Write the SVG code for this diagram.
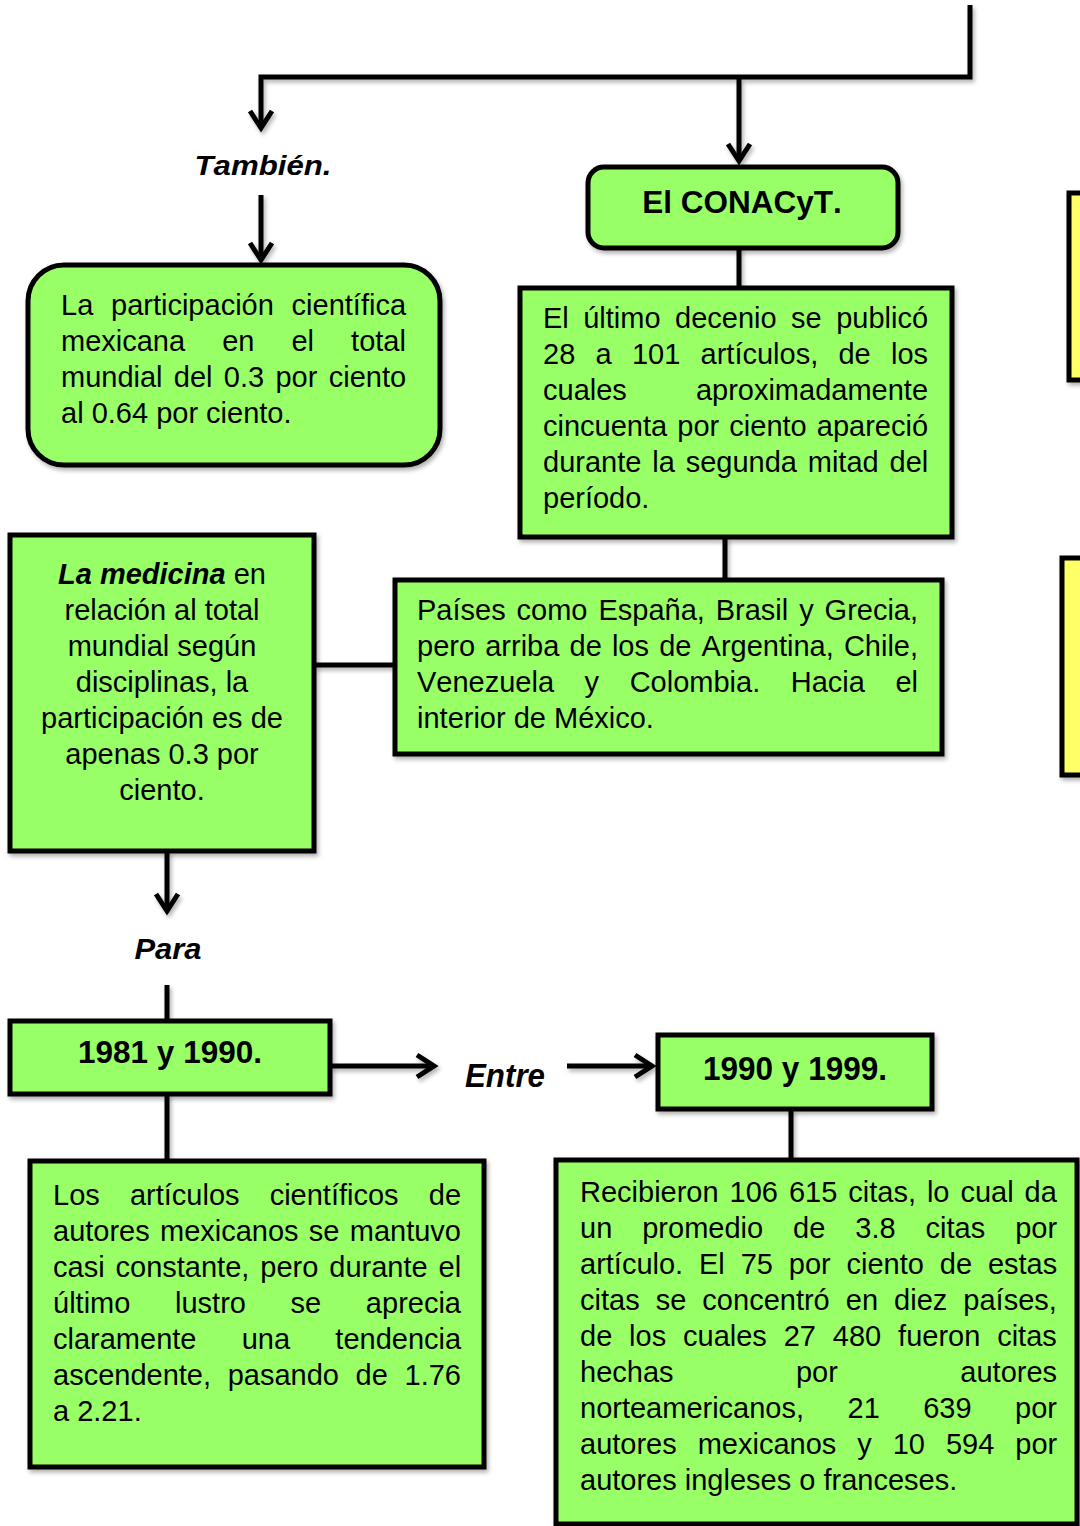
<svg xmlns="http://www.w3.org/2000/svg" width="1080" height="1526" viewBox="0 0 1080 1526">
<style>
.box{fill:#99FF66;stroke:#000;stroke-width:5}
.yel{fill:#FFFF66;stroke:#000;stroke-width:5}
.ln{fill:none;stroke:#000;stroke-width:5}
.t{font-family:"Liberation Sans",Arial,sans-serif;font-size:29px;fill:#000;font-kerning:none}
.b{font-weight:bold}
.bi{font-weight:bold;font-style:italic}
.e{text-anchor:end}
.m{text-anchor:middle}
</style>
<defs>
<filter id="sh" x="-10%" y="-10%" width="130%" height="130%">
<feDropShadow dx="2" dy="3" stdDeviation="2" flood-color="#000" flood-opacity="0.3"/>
</filter>
<marker id="ah" markerUnits="userSpaceOnUse" viewBox="-22 -15 30 30" markerWidth="30" markerHeight="30" refX="0" refY="0" orient="auto" overflow="visible">
<path d="M-17,-11 L0,0 L-17,11" fill="none" stroke="#000" stroke-width="5"/>
</marker>
</defs>
<rect width="1080" height="1526" fill="#fff"/>

<g id="connectors" filter="url(#sh)">
<path class="ln" d="M970,5 V77 H261 V128" marker-end="url(#ah)"/>
<path class="ln" d="M739,77 V161" marker-end="url(#ah)"/>
<path class="ln" d="M261,195 V260" marker-end="url(#ah)"/>
<path class="ln" d="M739,248 V288"/>
<path class="ln" d="M725,537 V580"/>
<path class="ln" d="M314,665 H395"/>
<path class="ln" d="M167,851 V911" marker-end="url(#ah)"/>
<path class="ln" d="M167,985 V1021"/>
<path class="ln" d="M330,1066 H434" marker-end="url(#ah)"/>
<path class="ln" d="M567,1066 H652" marker-end="url(#ah)"/>
<path class="ln" d="M167,1094 V1161"/>
<path class="ln" d="M791,1109 V1160"/>
</g>

<g id="label-tambien">
<text class="t bi m" x="263" y="175" style="font-size:28px" textLength="137" lengthAdjust="spacingAndGlyphs">También.</text>
</g>

<g id="node-participacion">
<rect class="box" x="28" y="265" width="412" height="200" rx="36" filter="url(#sh)"/>
<text class="t" x="61" y="315" word-spacing="9.7">La participación científica</text>
<text class="t" x="61" y="351" word-spacing="29">mexicana en el total</text>
<text class="t" x="61" y="387" word-spacing="3.25">mundial del 0.3 por ciento</text>
<text class="t" x="61" y="423">al 0.64 por ciento.</text>
</g>

<g id="node-conacyt">
<rect class="box" x="588" y="167" width="310" height="81" rx="16" filter="url(#sh)"/>
<text class="t b m" x="742" y="213" style="font-size:31.5px">El CONACyT.</text>
</g>

<g id="node-decenio">
<rect class="box" x="520" y="288" width="432" height="249" filter="url(#sh)"/>
<text class="t" x="543" y="328" word-spacing="6.4">El último decenio se publicó</text>
<text class="t" x="543" y="364" word-spacing="12.2">28 a 101 artículos, de los</text>
<text class="t" x="543" y="400" word-spacing="61">cuales aproximadamente</text>
<text class="t" x="543" y="436" word-spacing="2.07">cincuenta por ciento apareció</text>
<text class="t" x="543" y="472" word-spacing="2.8">durante la segunda mitad del</text>
<text class="t" x="543" y="508">período.</text>
</g>

<g id="node-paises">
<rect class="box" x="395" y="580" width="547" height="174" filter="url(#sh)"/>
<text class="t" x="417" y="620" word-spacing="2.86">Países como España, Brasil y Grecia,</text>
<text class="t" x="417" y="656" word-spacing="2.1">pero arriba de los de Argentina, Chile,</text>
<text class="t" x="417" y="692" word-spacing="22.5">Venezuela y Colombia. Hacia el</text>
<text class="t" x="417" y="728">interior de México.</text>
</g>

<g id="node-medicina">
<rect class="box" x="10" y="535" width="304" height="316" filter="url(#sh)"/>
<text class="t m" x="162" y="584"><tspan class="bi">La medicina</tspan> en</text>
<text class="t m" x="162" y="620">relación al total</text>
<text class="t m" x="162" y="656">mundial según</text>
<text class="t m" x="162" y="692">disciplinas, la</text>
<text class="t m" x="162" y="728">participación es de</text>
<text class="t m" x="162" y="764">apenas 0.3 por</text>
<text class="t m" x="162" y="800">ciento.</text>
</g>

<g id="label-para">
<text class="t bi m" x="168" y="959" style="font-size:29px" textLength="67" lengthAdjust="spacingAndGlyphs">Para</text>
</g>

<g id="node-1981">
<rect class="box" x="10" y="1021" width="320" height="73" filter="url(#sh)"/>
<text class="t b m" x="170" y="1063" style="font-size:31.5px">1981 y 1990.</text>
</g>

<g id="label-entre">
<text class="t bi m" x="505" y="1087" style="font-size:33px" textLength="80" lengthAdjust="spacingAndGlyphs">Entre</text>
</g>

<g id="node-1990">
<rect class="box" x="658" y="1035" width="274" height="74" filter="url(#sh)"/>
<text class="t b m" x="795" y="1080" style="font-size:34px" textLength="184" lengthAdjust="spacingAndGlyphs">1990 y 1999.</text>
</g>

<g id="node-articulos">
<rect class="box" x="30" y="1161" width="454" height="306" filter="url(#sh)"/>
<text class="t" x="53" y="1205" word-spacing="22.1">Los artículos científicos de</text>
<text class="t" x="53" y="1241" word-spacing="2.2">autores mexicanos se mantuvo</text>
<text class="t" x="53" y="1277" word-spacing="2.9">casi constante, pero durante el</text>
<text class="t" x="53" y="1313" word-spacing="36.6">último lustro se aprecia</text>
<text class="t" x="53" y="1349" word-spacing="37.2">claramente una tendencia</text>
<text class="t" x="53" y="1385" word-spacing="8.6">ascendente, pasando de 1.76</text>
<text class="t" x="53" y="1421">a 2.21.</text>
</g>

<g id="node-citas">
<rect class="box" x="556" y="1160" width="521" height="364" filter="url(#sh)"/>
<text class="t" x="580" y="1202" word-spacing="2.9">Recibieron 106 615 citas, lo cual da</text>
<text class="t" x="580" y="1238" word-spacing="21.9">un promedio de 3.8 citas por</text>
<text class="t" x="580" y="1274" word-spacing="7.8">artículo. El 75 por ciento de estas</text>
<text class="t" x="580" y="1310" word-spacing="8.0">citas se concentró en diez países,</text>
<text class="t" x="580" y="1346" word-spacing="8.8">de los cuales 27 480 fueron citas</text>
<text class="t" x="580" y="1382" word-spacing="114.4">hechas por autores</text>
<text class="t" x="580" y="1418" word-spacing="35.4">norteamericanos, 21 639 por</text>
<text class="t" x="580" y="1454" word-spacing="12.9">autores mexicanos y 10 594 por</text>
<text class="t" x="580" y="1490">autores ingleses o franceses.</text>
</g>

<g id="node-yellow-1">
<rect class="yel" x="1069" y="193" width="40" height="187" filter="url(#sh)"/>
</g>
<g id="node-yellow-2">
<rect class="yel" x="1062" y="558" width="40" height="217" filter="url(#sh)"/>
</g>
</svg>
